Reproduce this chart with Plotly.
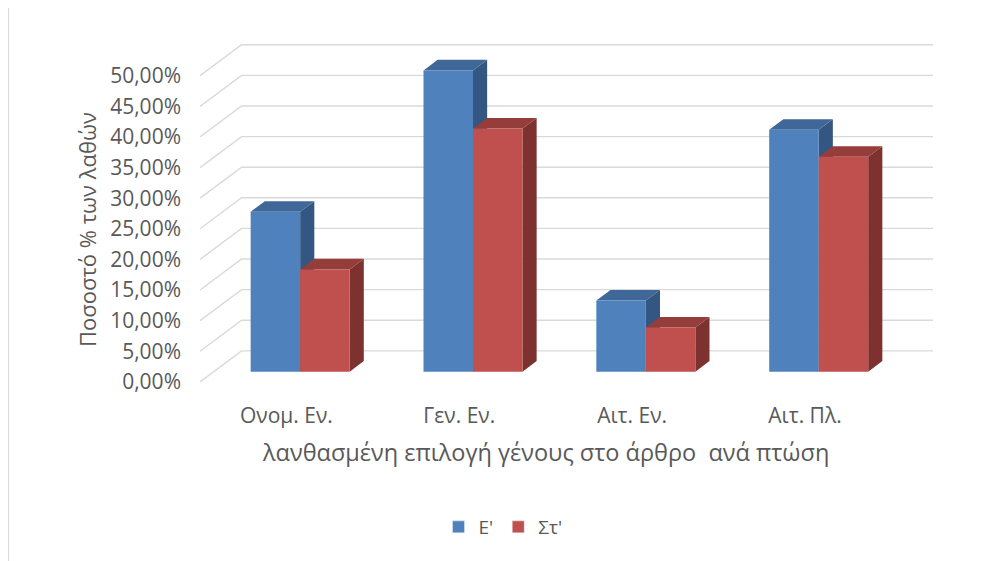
import plotly.graph_objects as go

# ---- data ----
categories = ["Ονομ. Εν.", "Γεν. Εν.", "Αιτ. Εν.", "Αιτ. Πλ."]
series_names = ["Ε'", "Στ'"]
values_E = [26.1, 49.2, 11.6, 39.5]
values_St = [16.7, 39.7, 7.2, 35.1]
y_ticks = [0, 5, 10, 15, 20, 25, 30, 35, 40, 45, 50]
y_tick_labels = [f"{v:.2f}".replace(".", ",") + "%" for v in y_ticks]
y_title = "Ποσοστό % των λαθών"
x_title = "λανθασμένη επιλογή γένους στο άρθρο  ανά πτώση"

# ---- styling / 3D projection parameters ----
FONT = "Open Sans"
TXT = "#595959"
GRID = "#D9D9D9"
DX = 0.2407     # x-shift (category units) for full depth
DY = 5.063      # y-shift (% units) for full depth
D0, D1 = 0.33, 0.67   # bar front / back depth
W = 0.2864      # bar width (category units)
faces = {
    "Ε'": dict(front="#4F81BD", top="#3F6898", side="#345682"),
    "Στ'": dict(front="#C0504D", top="#943D3A", side="#7E3230"),
}


def proj(x, y, d):
    return x + d * DX, y + d * DY


def poly_trace(pts_list, color):
    xs, ys = [], []
    for pts in pts_list:
        for (x, y, d) in pts + [pts[0]]:
            px, py = proj(x, y, d)
            xs.append(px)
            ys.append(py)
        xs.append(None)
        ys.append(None)
    return go.Scatter(x=xs, y=ys, mode="lines", fill="toself", fillcolor=color,
                      line=dict(width=0, color=color), hoverinfo="skip",
                      showlegend=False)


fig = go.Figure()

# gridlines on side wall + back wall
gx, gy = [], []
n = len(categories)
for v in y_ticks:
    for (x, y, d) in [(-0.5, v, 0), (-0.5, v, 1), (n - 0.5, v, 1)]:
        px, py = proj(x, y, d)
        gx.append(px)
        gy.append(py)
    gx.append(None)
    gy.append(None)
fig.add_trace(go.Scatter(x=gx, y=gy, mode="lines", line=dict(color=GRID, width=1.4),
                         hoverinfo="skip", showlegend=False))

# bars
for s_idx, (name, vals) in enumerate(zip(series_names, [values_E, values_St])):
    fronts, tops, sides = [], [], []
    for i, v in enumerate(vals):
        x0 = i - W + s_idx * W
        x1 = x0 + W
        fronts.append([(x0, 0, D0), (x1, 0, D0), (x1, v, D0), (x0, v, D0)])
        tops.append([(x0, v, D0), (x1, v, D0), (x1, v, D1), (x0, v, D1)])
        sides.append([(x1, 0, D0), (x1, 0, D1), (x1, v, D1), (x1, v, D0)])
    c = faces[name]
    fig.add_trace(poly_trace(sides, c["side"]))
    fig.add_trace(poly_trace(tops, c["top"]))
    fig.add_trace(poly_trace(fronts, c["front"]))

# legend entries
for name in series_names:
    fig.add_trace(go.Bar(x=[None], y=[None], name=name,
                         marker=dict(color=faces[name]["front"])))

# page has an 8px body margin: figure sits at (8, 8) in the window
OFF = 8
FW, FH = 981 - OFF, 561 - OFF
L, R, T, B = 200 - OFF, 48, 39 - OFF, 173
PW, PH = FW - L - R, FH - T - B


def px_to_paper_x(p):
    return (p - OFF - L) / PW


def px_to_paper_y(p):
    return (FH - B - (p - OFF)) / PH


fig.update_layout(
    width=FW, height=FH,
    margin=dict(l=L, r=R, t=T, b=B, autoexpand=False),
    paper_bgcolor="white", plot_bgcolor="white",
    font=dict(family=FONT, color=TXT),
    showlegend=True,
    legend=dict(orientation="h", x=px_to_paper_x(503), xanchor="center",
                y=px_to_paper_y(527), yanchor="middle",
                font=dict(size=19, color=TXT, family=FONT),
                itemwidth=30, traceorder="normal"),
    xaxis=dict(range=[-0.5, n - 0.5 + DX], showgrid=False, zeroline=False,
               showline=False, ticks="", tickmode="array",
               tickvals=list(range(n)), ticktext=categories,
               tickfont=dict(size=21, color=TXT, family=FONT),
               ticklabelstandoff=13, fixedrange=True),
    yaxis=dict(range=[-1, 56], showgrid=False, zeroline=False, showline=False,
               ticks="", tickmode="array", tickvals=y_ticks,
               ticktext=y_tick_labels,
               tickfont=dict(size=21, color=TXT, family=FONT),
               ticklabelstandoff=18, fixedrange=True),
    annotations=[
        dict(text=y_title, xref="paper", yref="paper",
             x=px_to_paper_x(87), y=px_to_paper_y(230), textangle=-90,
             showarrow=False, xanchor="center", yanchor="middle",
             font=dict(size=22, color=TXT, family=FONT)),
        dict(text=x_title, xref="paper", yref="paper",
             x=px_to_paper_x(545), y=px_to_paper_y(452),
             showarrow=False, xanchor="center", yanchor="middle",
             font=dict(size=23.5, color=TXT, family=FONT)),
    ],
    shapes=[dict(type="line", xref="paper", yref="paper",
                 x0=px_to_paper_x(8.5), x1=px_to_paper_x(8.5),
                 y0=px_to_paper_y(561), y1=px_to_paper_y(0),
                 line=dict(color=GRID, width=1.2))],
)

fig.write_html("out.html")
